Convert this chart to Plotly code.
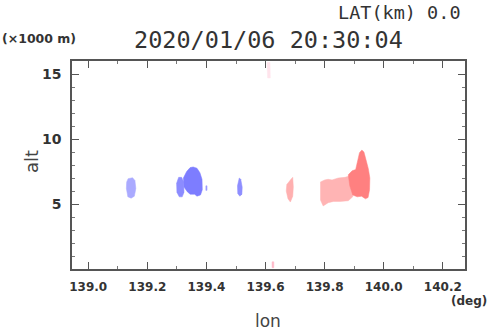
import plotly.graph_objects as go

# ---- data: echo regions (lon [deg], alt [x1000 m]) ----
b1_lon = [139.135, 139.150, 139.158, 139.161, 139.156, 139.145, 139.134, 139.129, 139.130]
b1_alt = [6.95, 7.02, 6.80, 6.20, 5.60, 5.45, 5.55, 6.20, 6.70]
b2_lon = [139.306, 139.316, 139.323, 139.324, 139.318, 139.308, 139.300, 139.299]
b2_alt = [7.05, 7.05, 6.70, 5.90, 5.55, 5.55, 5.90, 6.60]
b3_lon = [139.322, 139.333, 139.345, 139.355, 139.368, 139.378, 139.385, 139.386, 139.380, 139.368, 139.360, 139.345, 139.335, 139.324]
b3_alt = [7.00, 7.50, 7.80, 7.85, 7.75, 7.40, 6.90, 6.10, 5.70, 5.60, 5.75, 5.75, 5.95, 6.30]
b4_lon = [139.398, 139.402, 139.402, 139.398]
b4_alt = [6.40, 6.40, 6.05, 6.05]
b5_lon = [139.511, 139.516, 139.521, 139.520, 139.513, 139.506, 139.505]
b5_alt = [7.00, 6.90, 6.30, 5.75, 5.60, 5.80, 6.40]
r1_lon = [139.686, 139.692, 139.694, 139.692, 139.684, 139.676, 139.670, 139.672]
r1_alt = [6.90, 7.05, 6.30, 5.60, 5.15, 5.40, 6.00, 6.50]
r2l_lon = [139.786, 139.800, 139.812, 139.825, 139.846, 139.869, 139.890, 139.900, 139.895, 139.880, 139.852, 139.830, 139.812, 139.795, 139.786]
r2l_alt = [6.70, 6.85, 6.90, 6.85, 7.00, 7.05, 7.20, 6.40, 5.55, 5.25, 5.20, 5.20, 5.10, 4.85, 5.30]
r2d_lon = [139.880, 139.893, 139.905, 139.912, 139.918, 139.926, 139.933, 139.940, 139.948, 139.953, 139.952, 139.947, 139.938, 139.925, 139.910, 139.895, 139.885]
r2d_alt = [7.25, 7.55, 7.65, 8.40, 8.95, 9.15, 9.00, 8.40, 7.70, 7.00, 6.10, 5.50, 5.40, 5.60, 5.55, 5.70, 6.40]
rt_lon = [139.605, 139.615, 139.616, 139.607]
rt_alt = [15.9, 15.9, 14.7, 14.7]
rb_lon = [139.622, 139.628, 139.628, 139.622]
rb_alt = [0.55, 0.55, 0.10, 0.10]

blob_lons = [b1_lon, b2_lon, b3_lon, b4_lon, b5_lon, r1_lon, r2l_lon, r2d_lon, rt_lon, rb_lon]
blob_alts = [b1_alt, b2_alt, b3_alt, b4_alt, b5_alt, r1_alt, r2l_alt, r2d_alt, rt_alt, rb_alt]
blob_colors = ["#aaaaff", "#8c8cff", "#7d7dff", "#9a9aff", "#8e8eff",
               "#ffb0b0", "#ffb4b4", "#ff8080", "#ffe4ec", "#ffb8c8"]

x_ticks = [139.0, 139.2, 139.4, 139.6, 139.8, 140.0, 140.2]
x_ticklabels = ["139.0", "139.2", "139.4", "139.6", "139.8", "140.0", "140.2"]
y_ticks = [5, 10, 15]
y_ticklabels = ["5", "10", "15"]

title_text = "2020/01/06 20:30:04"
lat_text = "LAT(km) 0.0"

fig = go.Figure()
for lo, al, c in zip(blob_lons, blob_alts, blob_colors):
    fig.add_trace(go.Scatter(x=lo + [lo[0]], y=al + [al[0]], mode="lines", fill="toself",
                             fillcolor=c, line=dict(color=c, width=0.5), hoverinfo="skip",
                             showlegend=False))

axis_common = dict(showgrid=False, zeroline=False, showline=True, linecolor="#555555",
                   linewidth=1.5, mirror="ticks", ticks="inside", ticklen=7, tickwidth=1,
                   tickcolor="#555555")
mono = "DejaVu Sans Mono"
fig.update_xaxes(range=[138.945, 140.275], tickvals=x_ticks, ticktext=x_ticklabels,
                 tickfont=dict(family="DejaVu Sans", size=12, color="#333333", weight="bold"),
                 ticklabelstandoff=6,
                 minor=dict(dtick=0.1, tick0=139.0, ticks="inside", ticklen=3, tickcolor="#777777"),
                 **axis_common)
fig.update_yaxes(range=[0, 16], tickvals=y_ticks, ticktext=y_ticklabels,
                 tickfont=dict(family="DejaVu Sans", size=14, color="#333333", weight="bold"),
                 ticklabelstandoff=6,
                 minor=dict(dtick=1, tick0=0, ticks="inside", ticklen=3, tickcolor="#777777"),
                 **axis_common)

L, R, T, B = 72, 25, 61, 62
W, H = 490, 331
pw, ph = W - L - R, H - T - B
fig.update_layout(
    width=W, height=H,
    margin=dict(l=L, r=R, t=T, b=B, autoexpand=False),
    paper_bgcolor="white", plot_bgcolor="white",
)

def px(x, y):
    return (x - L) / pw, 1 - (y - T) / ph

ann_specs = [
    (lat_text, 463, 13, dict(family=mono, size=18.5, color="#333333"), "right", 0),
    (title_text, 268, 40, dict(family=mono, size=23.5, color="#333333"), "center", 0),
    ("(×1000 m)", 0, 39, dict(family="DejaVu Sans", size=12.5, color="#333333", weight="bold"), "left", 0),
    ("(deg)", 489, 301, dict(family="DejaVu Sans", size=12, color="#333333", weight="bold"), "right", 0),
    ("alt", 31, 162, dict(family="DejaVu Sans", size=18, color="#444444"), "center", -90),
    ("lon", 268, 321, dict(family="DejaVu Sans", size=17, color="#444444"), "center", 0),
]
anns = []
for text, x, y, font, xa, ang in ann_specs:
    xp, yp = px(x, y)
    anns.append(dict(text=text, x=xp, y=yp, xref="paper", yref="paper", showarrow=False,
                     xanchor=xa, yanchor="middle", font=font, textangle=ang))
fig.update_layout(annotations=anns)

fig.write_html("out.html", config={"displayModeBar": False},
               post_script="document.body.style.margin='0px';")
